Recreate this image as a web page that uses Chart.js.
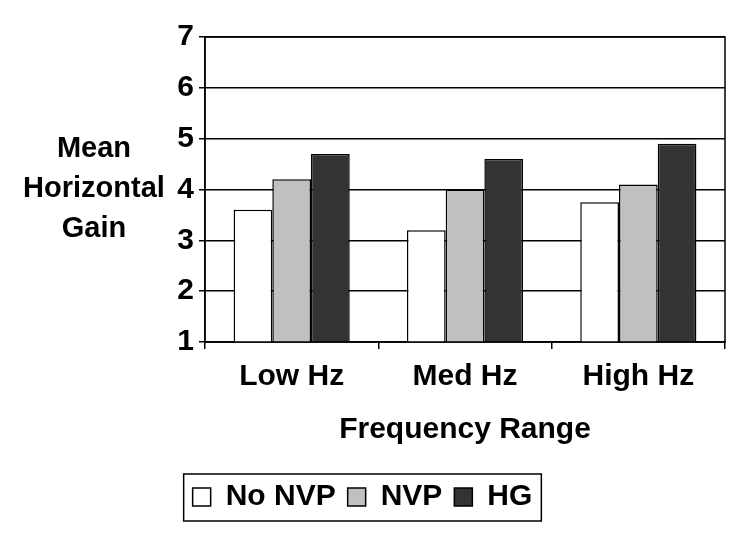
<!DOCTYPE html>
<html><head><meta charset="utf-8">
<script src="https://cdn.jsdelivr.net/npm/chart.js@4"></script>
<style>html,body{margin:0;padding:0;background:#fff}</style></head>
<body>
<canvas id="c" width="750" height="540"></canvas>
<script>
const categories = ['Low Hz', 'Med Hz', 'High Hz'];
const seriesNames = ['No NVP', 'NVP', 'HG'];
const noNVP = [3.6, 3.2, 3.75];
const nvp = [4.2, 4.0, 4.1];
const hg = [4.7, 4.6, 4.9];
const yTicks = [1, 2, 3, 4, 5, 6, 7];
const yTitleLines = ['Mean', 'Horizontal', 'Gain'];
const xTitle = 'Frequency Range';

const FONT = '"Liberation Sans", Arial, sans-serif';

const framePlugin = {
  id: 'frame',
  afterDatasetsDraw(chart) {
    const {ctx, chartArea: a} = chart;
    ctx.save();
    ctx.strokeStyle = '#000';
    ctx.lineWidth = 1.5;
    ctx.strokeRect(a.left, a.top, a.right - a.left, a.bottom - a.top);
    ctx.restore();
  },
  afterDraw(chart) {
    const {ctx} = chart;
    ctx.save();
    ctx.fillStyle = '#000';
    ctx.font = 'bold 29px ' + FONT;
    ctx.textAlign = 'center';
    ctx.textBaseline = 'middle';
    const cy = 189, lh = 40;
    yTitleLines.forEach((t, i) => ctx.fillText(t, 94, cy + (i - 1) * lh));
    // legend border
    const boxes = chart.legend.legendHitBoxes;
    if (boxes && boxes.length) {
      let l = Infinity, r = -Infinity, t = Infinity, b = -Infinity;
      boxes.forEach(h => { l = Math.min(l, h.left); r = Math.max(r, h.left + h.width); t = Math.min(t, h.top); b = Math.max(b, h.top + h.height); });
      ctx.strokeStyle = '#000';
      ctx.lineWidth = 1.5;
      ctx.strokeRect(l - 9, t - 8, (r - l) + 18, (b - t) + 17);
    }
    ctx.restore();
  }
};

new Chart(document.getElementById('c'), {
  type: 'bar',
  data: {
    labels: categories,
    datasets: [
      {label: seriesNames[0], data: noNVP, backgroundColor: '#ffffff', borderColor: '#000', borderWidth: 1.5},
      {label: seriesNames[1], data: nvp, backgroundColor: '#c0c0c0', borderColor: '#000', borderWidth: 1.5},
      {label: seriesNames[2], data: hg, backgroundColor: '#333333', borderColor: '#000', borderWidth: 1.5}
    ]
  },
  options: {
    responsive: false,
    animation: false,
    devicePixelRatio: 1,
    layout: {padding: {left: 0, right: 25, top: 37, bottom: 18}},
    datasets: {bar: {categoryPercentage: 0.67, barPercentage: 1.0}},
    plugins: {
      legend: {
        position: 'bottom',
        labels: {
          color: '#000',
          font: {family: FONT, size: 30, weight: 'bold'},
          boxWidth: 18, boxHeight: 18, padding: 12
        }
      },
      tooltip: {enabled: false}
    },
    scales: {
      x: {
        grid: {offset: true, drawOnChartArea: false, color: '#000', lineWidth: 1.5, tickLength: 7},
        border: {color: '#000', width: 1.5},
        ticks: {color: '#000', font: {family: FONT, size: 30, weight: 'bold'}, padding: 10},
        title: {display: true, text: xTitle, color: '#000', font: {family: FONT, size: 30, weight: 'bold'}, padding: {top: 0, bottom: 22}},
        afterFit(s) { s.height = 128; }
      },
      y: {
        min: 1, max: 7,
        afterBuildTicks(s) { s.ticks = yTicks.map(v => ({value: v})); },
        grid: {color: '#000', lineWidth: 1.5, tickLength: 6},
        border: {color: '#000', width: 1.5},
        ticks: {color: '#000', font: {family: FONT, size: 30, weight: 'bold'}, padding: 5},
        afterFit(s) { s.width = 205; }
      }
    }
  },
  plugins: [framePlugin]
});
</script>
</body></html>
